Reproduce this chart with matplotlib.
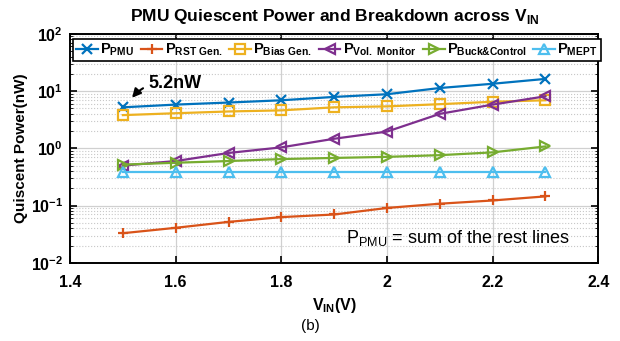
import numpy as np
import matplotlib
matplotlib.use("Agg")
import matplotlib.pyplot as plt
from matplotlib.ticker import LogLocator, FixedLocator

# supply voltage sweep
vin = [1.5, 1.6, 1.7, 1.8, 1.9, 2.0, 2.1, 2.2, 2.3]

# quiescent power per block (nW)
p_pmu = [5.2, 5.8, 6.3, 6.9, 7.9, 8.8, 11.3, 13.4, 16.3]
p_rst = [0.033, 0.041, 0.052, 0.063, 0.070, 0.091, 0.108, 0.123, 0.145]
p_bias = [3.8, 4.1, 4.4, 4.6, 5.2, 5.4, 5.9, 6.5, 6.9]
p_vmon = [0.50, 0.60, 0.83, 1.04, 1.47, 1.96, 4.0, 5.8, 8.1]
p_buck = [0.52, 0.56, 0.60, 0.65, 0.68, 0.71, 0.76, 0.85, 1.08]
p_mept = [0.38, 0.38, 0.38, 0.38, 0.38, 0.38, 0.38, 0.38, 0.38]

labels = [r"$\mathbf{P_{PMU}}$", r"$\mathbf{P_{RST\ Gen.}}$", r"$\mathbf{P_{Bias\ Gen.}}$",
          r"$\mathbf{P_{Vol.\ Monitor}}$", r"$\mathbf{P_{Buck&Control}}$", r"$\mathbf{P_{MEPT}}$"]
colors = ["#0072BD", "#D95319", "#EDB120", "#7E2F8E", "#77AC30", "#4DBEEE"]
markers = ["x", "+", "s", "<", ">", "^"]
series = [p_pmu, p_rst, p_bias, p_vmon, p_buck, p_mept]

plt.rcParams["font.family"] = ["Liberation Sans", "DejaVu Sans"]
plt.rcParams["mathtext.fontset"] = "custom"
plt.rcParams["mathtext.rm"] = "Liberation Sans"
plt.rcParams["mathtext.bf"] = "Liberation Sans:bold"

fig = plt.figure(figsize=(6.2, 3.41), dpi=100)
ax = fig.add_axes([0.113, 0.229, 0.852, 0.672])

for y, lab, c, m in zip(series, labels, colors, markers):
    ax.plot(vin, y, color=c, marker=m, markersize=7.5, markeredgewidth=1.6,
            markerfacecolor="none", linewidth=1.6, label=lab)

ax.set_yscale("log")
ax.set_xlim(1.4, 2.4)
ax.set_ylim(1e-2, 1e2)
ax.set_xticks([1.4, 1.6, 1.8, 2.0, 2.2, 2.4])
ax.set_xticklabels(["1.4", "1.6", "1.8", "2", "2.2", "2.4"])
ax.yaxis.set_major_locator(FixedLocator([1e-2, 1e-1, 1e0, 1e1, 1e2]))
ax.set_yticklabels([r"$\mathbf{10^{-2}}$", r"$\mathbf{10^{-1}}$", r"$\mathbf{10^{0}}$",
                    r"$\mathbf{10^{1}}$", r"$\mathbf{10^{2}}$"])
ax.yaxis.set_minor_locator(LogLocator(base=10, subs=np.arange(2, 10), numticks=20))

ax.grid(True, which="major", color="#d0d0d0", linewidth=0.9)
ax.grid(True, which="minor", axis="y", color="#c8c8c8", linestyle=":", linewidth=0.8)
ax.set_axisbelow(True)
ax.tick_params(which="both", direction="in", top=True, right=True, labelsize=11.5)
ax.tick_params(which="major", length=5, width=1.2)
ax.tick_params(which="minor", length=2.5)
ax.tick_params(axis="x", pad=9)
ax.tick_params(axis="y", pad=5)
for lab in ax.get_xticklabels():
    lab.set_fontweight("bold")
for sp in ax.spines.values():
    sp.set_linewidth(1.4)

ax.set_title(r"PMU Quiescent Power and Breakdown across V$_{\mathbf{IN}}$",
             fontsize=12.5, fontweight="bold", pad=9)
ax.set_xlabel(r"V$_{\mathbf{IN}}$(V)", fontsize=11.5, fontweight="bold", labelpad=4)
ax.set_ylabel("Quiscent Power(nW)", fontsize=11, fontweight="bold", labelpad=2)

leg = ax.legend(loc="upper center", bbox_to_anchor=(0.505, 0.99), ncol=6, fontsize=10.5,
                handlelength=1.5, handletextpad=0.15, columnspacing=0.45,
                borderpad=0.2, borderaxespad=0.2, fancybox=False, edgecolor="black",
                framealpha=1)
leg.get_frame().set_linewidth(1.2)

ax.annotate("5.2nW", xy=(1.514, 7.0), xytext=(1.548, 11.5), fontsize=13, fontweight="bold",
            arrowprops=dict(arrowstyle="-|>", color="black", lw=1.5,
                            connectionstyle="arc3,rad=0.3"))

ax.text(2.345, 0.027, r"P$_{\mathrm{PMU}}$ = sum of the rest lines", fontsize=13,
        ha="right", va="center")

fig.text(0.5, 0.045, "(b)", ha="center", va="center", fontsize=11)

fig.savefig("out.png", dpi=100)
